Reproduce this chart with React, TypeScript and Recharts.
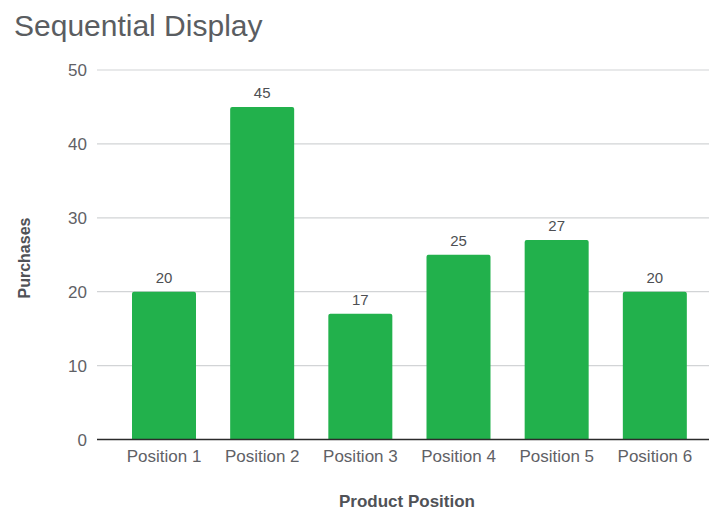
import { BarChart, Bar, CartesianGrid, LabelList, XAxis, YAxis } from "recharts";

const positions = ["Position 1", "Position 2", "Position 3", "Position 4", "Position 5", "Position 6"];
const purchases = [20, 45, 17, 25, 27, 20];
const yTicks = [0, 10, 20, 30, 40, 50];

const FONT = '"Liberation Sans", Arial, Helvetica, sans-serif';
const GREY = "#5f6166";

const data = positions.map((name, i) => ({ name, purchases: purchases[i] }));

export default function App() {
  return (
    <div style={{ position: "absolute", left: 0, top: 0, width: 709, height: 511, background: "#fff", fontFamily: FONT }}>
      <div
        style={{
          position: "absolute",
          left: 14,
          top: 11,
          fontSize: 30,
          lineHeight: "30px",
          color: "#5a5d61",
          whiteSpace: "nowrap",
        }}
      >
        Sequential Display
      </div>
      <BarChart
        width={709}
        height={511}
        data={data}
        margin={{ top: 70, right: 0, bottom: 0, left: 0 }}
        style={{ fontFamily: FONT }}
      >
        <CartesianGrid vertical={false} stroke="#d2d4d6" strokeWidth={1.2} />
        <XAxis
          dataKey="name"
          height={71.5}
          padding={{ left: 18, right: 5 }}
          tickLine={false}
          tickSize={0}
          tickMargin={10}
          axisLine={{ stroke: "#2b2b2b", strokeWidth: 1.6 }}
          tick={{ fill: GREY, fontSize: 17 }}
          interval={0}
          label={{
            value: "Product Position",
            position: "insideBottom",
            offset: 4,
            dx: 4,
            fill: "#505257",
            fontSize: 17,
            fontWeight: "bold",
          }}
        />
        <YAxis
          width={97}
          domain={[0, 50]}
          ticks={yTicks}
          tickLine={false}
          tickSize={0}
          tickMargin={10}
          axisLine={false}
          tick={{ fill: GREY, fontSize: 17 }}
          label={{
            content: () => (
              <text
                x={24}
                y={258}
                transform="rotate(-90 24 258)"
                textAnchor="middle"
                dominantBaseline="central"
                fill="#505257"
                fontSize={16}
                fontWeight="bold"
                fontFamily={FONT}
              >
                Purchases
              </text>
            ),
          }}
        />
        <Bar dataKey="purchases" fill="#22b14c" barSize={64} radius={[2, 2, 0, 0]} isAnimationActive={false}>
          <LabelList dataKey="purchases" position="top" offset={9} fill="#4d4f53" fontSize={15} />
        </Bar>
      </BarChart>
    </div>
  );
}
